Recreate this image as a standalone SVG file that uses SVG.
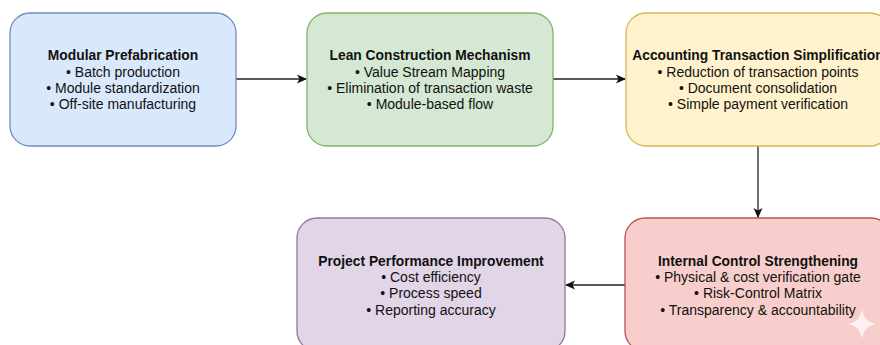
<svg xmlns="http://www.w3.org/2000/svg" width="880" height="345" viewBox="0 0 880 345">
  <defs>
    <marker id="arrow" viewBox="0 0 10 10" refX="9" refY="5" markerWidth="10" markerHeight="10" markerUnits="userSpaceOnUse" orient="auto">
      <path d="M0,0.5 L10,5 L0,9.5 L2.5,5 Z" fill="#111"/>
    </marker>
  </defs>
  <style>
    .box { stroke-width: 1.3; }
    .t { font-family: "Liberation Sans", Arial, Helvetica, sans-serif; font-size: 14px; fill: #111; text-anchor: middle; }
    .h { font-weight: bold; font-size: 13.8px; }
    .edge { fill: none; stroke: #222; stroke-width: 1.3; marker-end: url(#arrow); }
  </style>
  <rect width="880" height="345" fill="#ffffff"/>

  <g id="connectors">
    <path class="edge" d="M236,79 L306,79"/>
    <path class="edge" d="M553,79 L625,79"/>
    <path class="edge" d="M758,146 L758,217"/>
    <path class="edge" d="M625,285 L566,285"/>
  </g>

  <g id="modular-prefabrication">
    <rect class="box" x="10" y="13" width="226" height="133" rx="20" fill="#dae8fc" stroke="#6c8ebf"/>
    <text class="t h" x="123" y="60">Modular Prefabrication</text>
    <text class="t" x="123" y="77">• Batch production</text>
    <text class="t" x="123" y="93">• Module standardization</text>
    <text class="t" x="123" y="109">• Off-site manufacturing</text>
  </g>

  <g id="lean-construction">
    <rect class="box" x="307" y="13" width="246" height="133" rx="20" fill="#d5e8d4" stroke="#82b366"/>
    <text class="t h" x="430" y="60">Lean Construction Mechanism</text>
    <text class="t" x="430" y="77">• Value Stream Mapping</text>
    <text class="t" x="430" y="93">• Elimination of transaction waste</text>
    <text class="t" x="430" y="109">• Module-based flow</text>
  </g>

  <g id="accounting-simplification">
    <rect class="box" x="626" y="13" width="264" height="133" rx="20" fill="#fff2cc" stroke="#d6b656"/>
    <text class="t h" x="758" y="60">Accounting Transaction Simplification</text>
    <text class="t" x="758" y="77">• Reduction of transaction points</text>
    <text class="t" x="758" y="93">• Document consolidation</text>
    <text class="t" x="758" y="109">• Simple payment verification</text>
  </g>

  <g id="internal-control">
    <rect class="box" x="625" y="218" width="266" height="133" rx="20" fill="#f8cecc" stroke="#b85450"/>
    <text class="t h" x="758" y="266">Internal Control Strengthening</text>
    <text class="t" x="758" y="282">• Physical &amp; cost verification gate</text>
    <text class="t" x="758" y="298">• Risk-Control Matrix</text>
    <text class="t" x="758" y="315">• Transparency &amp; accountability</text>
  </g>

  <g id="project-performance">
    <rect class="box" x="297" y="218" width="268" height="133" rx="20" fill="#e1d5e7" stroke="#9673a6"/>
    <text class="t h" x="431" y="266">Project Performance Improvement</text>
    <text class="t" x="431" y="282">• Cost efficiency</text>
    <text class="t" x="431" y="298">• Process speed</text>
    <text class="t" x="431" y="315">• Reporting accuracy</text>
  </g>

  <!-- faint four-point sparkle in the lower right corner -->
  <path d="M862,309 Q864,322 876,324 Q864,326 862,339 Q860,326 848,324 Q860,322 862,309 Z" fill="#ffffff" opacity="0.7"/>
</svg>
